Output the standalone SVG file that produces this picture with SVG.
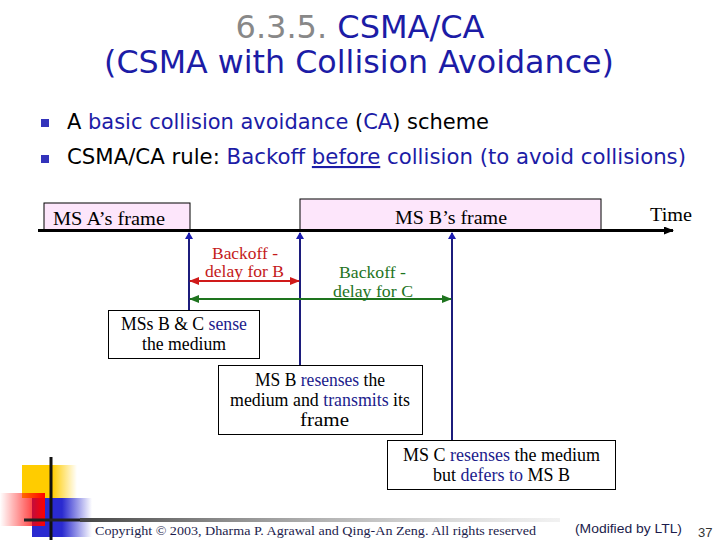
<svg xmlns="http://www.w3.org/2000/svg" width="720" height="540" viewBox="0 0 720 540">
<style>
.title{font-family:"DejaVu Sans",Verdana,sans-serif;font-size:32px;fill:#1c1ca6}
.bul{font-family:"DejaVu Sans",Verdana,sans-serif;font-size:21px;fill:#000}
.b{fill:#1c1ca6}
.t{font-family:"Liberation Serif","Times New Roman",serif;font-size:18px;fill:#000}
.s{font-size:17px}
.n{fill:#1c1c8c}
.red{fill:#c41a1a}
.grn{fill:#1e741e}
.foot{fill:#1c1c4c;font-size:13px}
.box{fill:#fff;stroke:#000;stroke-width:1}
.frame{fill:#fde6fb;stroke:#000;stroke-width:1}
.vl{stroke:#1c1c7c;stroke-width:2;fill:none}
</style>
<defs>
<marker id="up" markerWidth="8" markerHeight="8" refX="4" refY="1" orient="0" markerUnits="userSpaceOnUse"><path d="M0,7 L4,0 L8,7 Z" fill="#1c1cb0"/></marker>
<marker id="ar" markerWidth="10" markerHeight="8" refX="9" refY="4" orient="auto-start-reverse" markerUnits="userSpaceOnUse"><path d="M0,0 L10,4 L0,8 Z" fill="#d01a1a"/></marker>
<marker id="ag" markerWidth="10" markerHeight="8" refX="9" refY="4" orient="auto-start-reverse" markerUnits="userSpaceOnUse"><path d="M0,0 L10,4 L0,8 Z" fill="#1e741e"/></marker>
<marker id="ak" markerWidth="10" markerHeight="8" refX="9" refY="4" orient="auto" markerUnits="userSpaceOnUse"><path d="M0,0 L10,4 L0,8 Z" fill="#000"/></marker>
<linearGradient id="gy" x1="0" x2="1" y1="0" y2="0"><stop offset="0" stop-color="#ffcc00"/><stop offset="0.55" stop-color="#ffcc00"/><stop offset="1" stop-color="#ffcc00" stop-opacity="0"/></linearGradient>
<linearGradient id="gr" x1="0" x2="1" y1="0" y2="0"><stop offset="0" stop-color="#ff0000" stop-opacity="0"/><stop offset="1" stop-color="#ff0000"/></linearGradient>
<linearGradient id="gb" x1="0" x2="1" y1="0" y2="0"><stop offset="0" stop-color="#2a2ad0"/><stop offset="0.5" stop-color="#2a2ad0"/><stop offset="1" stop-color="#2a2ad0" stop-opacity="0"/></linearGradient>
<linearGradient id="gl" x1="0" x2="1" y1="0" y2="0"><stop offset="0" stop-color="#444"/><stop offset="1" stop-color="#ddd" stop-opacity="0.4"/></linearGradient>
</defs>
<rect width="720" height="540" fill="#fff"/>

<g id="title">
<text class="title" x="360" y="38" text-anchor="middle"><tspan fill="#888">6.3.5. </tspan>CSMA/CA</text>
<text class="title" x="359" y="73" text-anchor="middle" textLength="510" lengthAdjust="spacingAndGlyphs">(CSMA with Collision Avoidance)</text>
</g>

<g id="bullets">
<rect x="41" y="119" width="8" height="8" fill="#3333bb"/>
<rect x="41" y="155" width="8" height="8" fill="#3333bb"/>
<text class="bul" x="67" y="129" textLength="422" lengthAdjust="spacingAndGlyphs">A <tspan class="b">basic collision avoidance</tspan> (<tspan class="b">CA</tspan>) scheme</text>
<text class="bul" x="67" y="164" textLength="619" lengthAdjust="spacingAndGlyphs">CSMA/CA rule: <tspan class="b">Backoff <tspan text-decoration="underline">before</tspan> collision (to avoid collisions)</tspan></text>
</g>

<g id="frameA">
<rect class="frame" x="44" y="203" width="146" height="27"/>
<text class="t" x="53" y="225" textLength="112" lengthAdjust="spacingAndGlyphs">MS A’s frame</text>
</g>
<g id="frameB">
<rect class="frame" x="300" y="199" width="301" height="31"/>
<text class="t" x="395" y="224" textLength="112" lengthAdjust="spacingAndGlyphs">MS B’s frame</text>
</g>
<g id="time">
<text class="t" x="650" y="221" textLength="42" lengthAdjust="spacingAndGlyphs">Time</text>
</g>

<g id="connectors">
<line x1="38" y1="230.5" x2="673" y2="230.5" stroke="#000" stroke-width="3" marker-end="url(#ak)"/>
<line class="vl" x1="189" y1="310" x2="189" y2="233" marker-end="url(#up)"/>
<line class="vl" x1="300" y1="365" x2="300" y2="233" marker-end="url(#up)"/>
<line class="vl" x1="452" y1="440" x2="452" y2="233" marker-end="url(#up)"/>
<line x1="190" y1="281" x2="299" y2="281" stroke="#d01a1a" stroke-width="2" marker-start="url(#ar)" marker-end="url(#ar)"/>
<line x1="190" y1="299" x2="451" y2="299" stroke="#1e741e" stroke-width="2" marker-start="url(#ag)" marker-end="url(#ag)"/>
</g>

<g id="backoffB">
<text class="t s red" x="212" y="259" textLength="66" lengthAdjust="spacingAndGlyphs">Backoff -</text>
<text class="t s red" x="205" y="277" textLength="79" lengthAdjust="spacingAndGlyphs">delay for B</text>
</g>
<g id="backoffC">
<text class="t s grn" x="339" y="278" textLength="67" lengthAdjust="spacingAndGlyphs">Backoff -</text>
<text class="t s grn" x="333" y="297" textLength="80" lengthAdjust="spacingAndGlyphs">delay for C</text>
</g>

<g id="sense">
<rect class="box" x="108.5" y="310.5" width="151" height="48"/>
<text class="t" x="121" y="330" textLength="126" lengthAdjust="spacingAndGlyphs">MSs B &amp; C <tspan class="n">sense</tspan></text>
<text class="t" x="142" y="350" textLength="84" lengthAdjust="spacingAndGlyphs">the medium</text>
</g>
<g id="msB">
<rect class="box" x="218.5" y="365.5" width="204" height="69"/>
<text class="t" x="255" y="386" textLength="130" lengthAdjust="spacingAndGlyphs">MS B <tspan class="n">resenses</tspan> the</text>
<text class="t" x="230" y="406" textLength="180" lengthAdjust="spacingAndGlyphs">medium and <tspan class="n">transmits</tspan> its</text>
<text class="t" x="300" y="426" textLength="49" lengthAdjust="spacingAndGlyphs">frame</text>
</g>
<g id="msC">
<rect class="box" x="387.5" y="440.5" width="228" height="49"/>
<text class="t" x="403" y="461" textLength="197" lengthAdjust="spacingAndGlyphs">MS C <tspan class="n">resenses</tspan> the medium</text>
<text class="t" x="433" y="481" textLength="137" lengthAdjust="spacingAndGlyphs">but <tspan class="n">defers to</tspan> MS B</text>
</g>

<g id="footer">
<rect x="22" y="465" width="55" height="33" fill="url(#gy)"/>
<rect x="32" y="498" width="60" height="39" fill="url(#gb)"/>
<rect x="0" y="493" width="45" height="33" fill="url(#gr)"/>
<line x1="51" y1="457" x2="51" y2="540" stroke="#111" stroke-width="3"/>
<line x1="24" y1="520" x2="80" y2="520" stroke="#222" stroke-width="3"/>
<rect x="80" y="518" width="480" height="4" fill="url(#gl)"/>
<text class="t foot" x="95" y="535" textLength="441" lengthAdjust="spacingAndGlyphs">Copyright © 2003, Dharma P. Agrawal and Qing-An Zeng. All rights reserved</text>
<text x="575" y="533" font-family="'Liberation Sans',Arial,sans-serif" font-size="13" fill="#1c1c4c" textLength="107" lengthAdjust="spacingAndGlyphs">(Modified by LTL)</text>
<text x="698" y="537" font-family="'Liberation Sans',Arial,sans-serif" font-size="13" fill="#333">37</text>
</g>
</svg>
